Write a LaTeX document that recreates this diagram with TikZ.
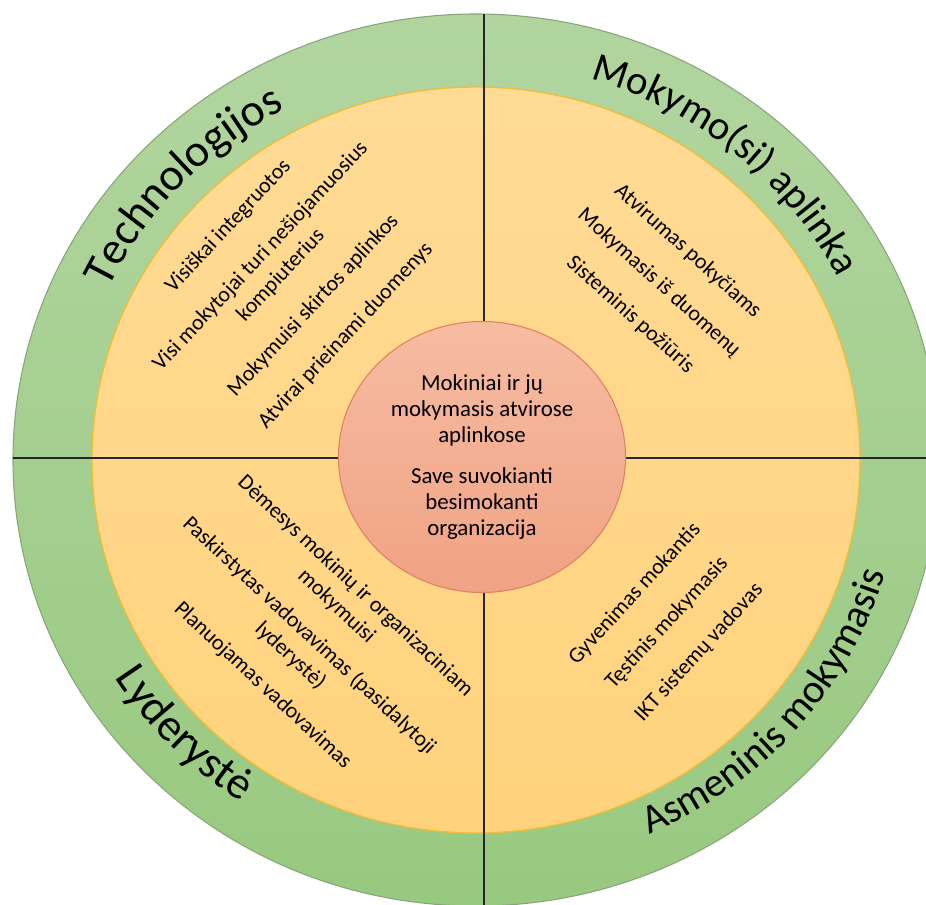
\documentclass[tikz,border=0pt]{standalone}
\usepackage{fontspec}
\setmainfont{Carlito}
\usetikzlibrary{decorations.text,shapes.geometric}
\definecolor{greentop}{RGB}{178,213,160}
\definecolor{greenbot}{RGB}{152,201,128}
\definecolor{greenedge}{RGB}{135,165,120}
\definecolor{yellowtop}{RGB}{255,219,150}
\definecolor{yellowbot}{RGB}{255,211,125}
\definecolor{yellowedge}{RGB}{240,190,60}
\definecolor{coretop}{RGB}{246,188,162}
\definecolor{corebot}{RGB}{240,162,132}
\definecolor{coreedge}{RGB}{222,130,95}
\newcommand\ringfontbig{\fontsize{26}{30}\selectfont}
\newcommand\ringfontsmall{\fontsize{23.2}{28}\selectfont}
\tikzset{
  item/.style = {align=center, inner sep=0pt,
                 font=\fontsize{12.5}{15.8}\selectfont},
  core/.style = {ellipse, align=center, inner sep=0pt,
                 font=\fontsize{13}{14.8}\selectfont,
                 top color=coretop, bottom color=corebot,
                 draw=coreedge, line width=0.6pt},
  ringlab/.style = {decorate, decoration={text along path,
                 text align=center, text={#1}}},
  split/.style = {line width=0.8pt, black!85}
}
\begin{document}
\begin{tikzpicture}[x=0.2mm, y=0.2mm]
  \useasboundingbox (-476,-445) rectangle (450,460);
  \clip (-476,-445) rectangle (450,460);
  % Ringe
  \path[top color=greentop, bottom color=greenbot, draw=greenedge, line width=0.6pt]
    (0,0) ellipse [x radius=463, y radius=446];
  \path[top color=yellowtop, bottom color=yellowbot, draw=yellowedge, line width=0.8pt]
    (0,0) ellipse [x radius=384, y radius=373];
  % Quadranten
  \begin{scope}
    \clip (0,0) ellipse [x radius=463, y radius=446];
    \draw[split] (8,460) -- (8,-460);
    \draw[split] (-480,2) -- (480,2);
  \end{scope}
  \node[core, minimum width=57.4mm, minimum height=54.2mm] (kern) at (6,3)
    {Mokiniai ir jų\\mokymasis atvirose\\aplinkose\\[9pt]Save suvokianti\\besimokanti\\organizacija};
  \node[item, rotate=47] (tech) at (-189,179)
    {Visiškai integruotos\\[9.4pt]Visi mokytojai turi nešiojamuosius\\kompiuterius\\[9.4pt]Mokymuisi skirtos aplinkos\\[9.4pt]Atvirai prieinami duomenys};
  \node[item, rotate=-42] (aplinka) at (183,177)
    {Atvirumas pokyčiams\\[8.6pt]Mokymasis iš duomenų\\[8.6pt]Sisteminis požiūris};
  \node[item, rotate=-43] (lyd) at (-167,-176)
    {Dėmesys mokinių ir organizaciniam\\mokymuisi\\[7pt]Paskirstytas vadovavimas (pasidalytoji\\lyderystė)\\[7pt]Planuojamas vadovavimas};
  \node[item, rotate=47.5] (asm) at (191,-163)
    {Gyvenimas mokantis\\[9pt]Tęstinis mokymasis\\[9pt]IKT sistemų vadovas};
  % Beschriftung im Ring
  \path[ringlab={|\ringfontbig|Technologijos}]
    (186.5:408 and 397) arc[start angle=186.5, end angle=86.5, x radius=408, y radius=397];
  \path[ringlab={|\ringfontsmall|Mokymo(si) aplinka}]
    (100.2:408 and 397) arc[start angle=100.2, end angle=0.2, x radius=408, y radius=397];
  \path[ringlab={|\ringfontbig|Lyderystė}]
    (173.7:426 and 410) arc[start angle=173.7, end angle=273.7, x radius=426, y radius=410];
  \path[ringlab={|\ringfontsmall|Asmeninis mokymasis}]
    (-90.6:426 and 410) arc[start angle=-90.6, end angle=9.4, x radius=426, y radius=410];
\end{tikzpicture}
\end{document}
